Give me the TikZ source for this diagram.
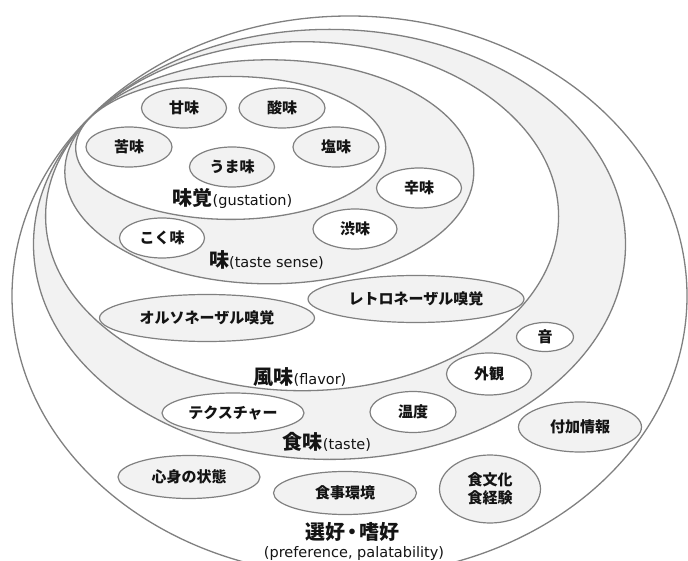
\documentclass[tikz,border=0pt]{standalone}
\usepackage{fontspec}
\setmainfont{DejaVu Sans}
\newfontfamily\jp{Noto Sans CJK JP}
\usetikzlibrary{shapes.geometric}
\definecolor{edge}{RGB}{128,128,128}
\definecolor{shade}{RGB}{242,242,242}
\definecolor{ink}{RGB}{20,20,20}
\tikzset{
  zone/.style={draw=edge, line width=1.3pt},
  item/.style={ellipse, draw=edge, line width=1.2pt, inner sep=0pt,
    font=\jp\bfseries\fontsize{15}{18}\selectfont, text=ink, align=center},
  gitem/.style={item, fill=shade},
  witem/.style={item, fill=white},
  biglabel/.style={inner sep=0pt, text=ink},
}
\newcommand{\bigjp}[1]{{\jp\bfseries\fontsize{20}{22}\selectfont #1}}
\newcommand{\engtext}[1]{{\fontsize{14.5}{16}\selectfont #1}}

\begin{document}
\begin{tikzpicture}[x=1pt,y=-1pt]
\useasboundingbox (0,0) rectangle (688,561);
\begin{scope}
\clip (0,0) rectangle (688,561);
\filldraw[zone, fill=white] (349.5,296) ellipse [x radius=337.5, y radius=280];
\filldraw[zone, fill=shade] (329.5,244.4) ellipse [x radius=296, y radius=215];
\filldraw[zone, fill=white] (302.1,216.2) ellipse [x radius=256.5, y radius=174.5];
\filldraw[zone, fill=shade] (269.3,171.8) ellipse [x radius=204.5, y radius=112];
\filldraw[zone, fill=white] (230.7,147.9) ellipse [x radius=155, y radius=71.5];
\end{scope}

% gustation
\node[gitem, minimum width=85pt, minimum height=40pt] (amami) at (184,108) {甘味};
\node[gitem, minimum width=86pt, minimum height=40pt] (sanmi) at (282,108) {酸味};
\node[gitem, minimum width=86pt, minimum height=40pt] (nigami) at (129,147) {苦味};
\node[gitem, minimum width=86pt, minimum height=40pt] (enmi) at (336,147) {塩味};
\node[gitem, minimum width=85pt, minimum height=40pt] (umami) at (232,167) {うま味};
\node[biglabel] (lgust) at (232.5,198) {\bigjp{味覚}\engtext{(gustation)}};

% taste sense
\node[witem, minimum width=85pt, minimum height=40pt] (karami) at (419,188) {辛味};
\node[witem, minimum width=84pt, minimum height=40pt] (shibumi) at (355,229) {渋味};
\node[witem, minimum width=85pt, minimum height=40pt] (kokumi) at (162,238) {こく味};
\node[biglabel] (lsense) at (266.5,260) {\bigjp{味}\engtext{(taste sense)}};

% flavor
\node[gitem, minimum width=215pt, minimum height=47pt] (ortho) at (207,318) {オルソネーザル嗅覚};
\node[gitem, minimum width=216pt, minimum height=47pt] (retro) at (416,299) {レトロネーザル嗅覚};
\node[biglabel] (lflavor) at (300,377) {\bigjp{風味}\engtext{(flavor)}};

% taste
\node[witem, minimum width=57pt, minimum height=29pt] (oto) at (545,337) {音};
\node[witem, minimum width=85pt, minimum height=42pt] (gaikan) at (489,374) {外観};
\node[witem, minimum width=142pt, minimum height=40pt] (texture) at (233,413) {テクスチャー};
\node[witem, minimum width=86pt, minimum height=41pt] (ondo) at (413,412) {温度};
\node[biglabel] (ltaste) at (327,442) {\bigjp{食味}\engtext{(taste)}};

% preference
\node[gitem, minimum width=123pt, minimum height=50pt] (fuka) at (580,427) {付加情報};
\node[gitem, minimum width=142pt, minimum height=43pt] (shinshin) at (189,477) {心身の状態};
\node[gitem, minimum width=143pt, minimum height=43pt] (kankyo) at (345,493) {食事環境};
\node[gitem, minimum width=101pt, minimum height=68pt] (bunka) at (490,489) {食文化\\食経験};
\node[biglabel] (lpref) at (352,532) {{\jp\bfseries\fontsize{20}{22}\selectfont 選好\kern-3pt・\kern-3pt嗜好}};
\node[biglabel] (lpref2) at (354,553) {\engtext{(preference, palatability)}};
\end{tikzpicture}
\end{document}
